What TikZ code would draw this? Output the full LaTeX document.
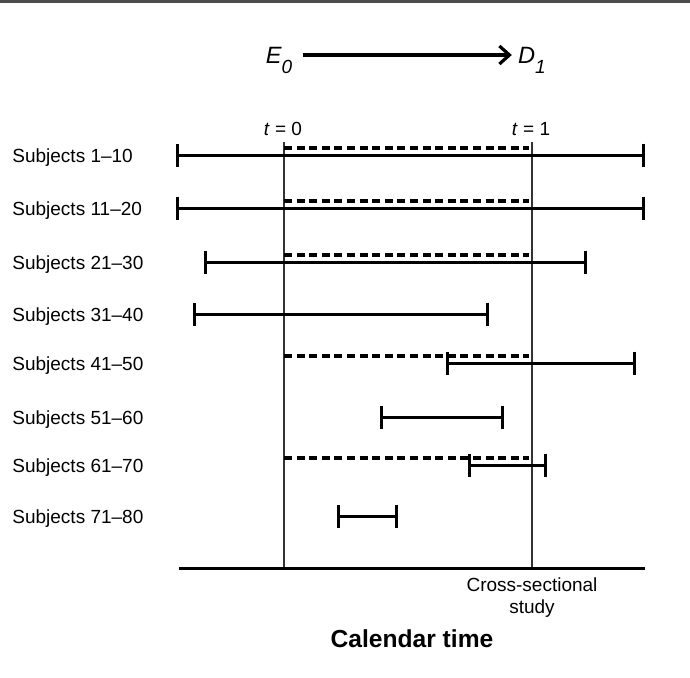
\documentclass[tikz,border=0pt]{standalone}
\usepackage{fontspec}
\setmainfont{Liberation Sans}
\usetikzlibrary{arrows.meta,positioning}

\begin{document}
\begin{tikzpicture}[
  x=0.5pt,y=-0.5pt,
  lab/.style={font=\fontsize{9.5}{11}\selectfont,inner sep=0pt},
  evt/.style={font=\fontsize{11.8}{12}\selectfont\itshape,inner sep=1pt,text depth=0pt},
  span/.style={{Bar[width=11.5pt]}-{Bar[width=11.5pt]},line width=1.5pt},
  gap/.style={line width=1.6pt,dash pattern=on 4pt off 2.3pt},
  tline/.style={line width=0.7pt,black!80}
]
\useasboundingbox (0,0) rectangle (690,677);
\draw[line width=1.5pt,black!70] (0,1) -- (690,1);

% exposure -> disease
\node[evt] (e0) at (279,55) {E\raisebox{-5pt}{\fontsize{9.5}{9}\selectfont 0}};
\node[evt] (d1) at (532,55) {D\raisebox{-5pt}{\fontsize{9.5}{9}\selectfont 1}};
\draw[-{Straight Barb[length=5pt,width=9pt]},line width=1.6pt,shorten <=4pt,shorten >=2pt] (e0) -- (d1);

% time points
\node[lab,anchor=base] (tzero) at (283,135) {\textit{t} = 0};
\node[lab,anchor=base] (tone) at (531,135) {\textit{t} = 1};
\coordinate (t0top) at (284,142);
\coordinate (t1top) at (532,142);
\coordinate (axl) at (179,568);
\coordinate (axr) at (645,568);
\draw[tline] (t0top) -- (t0top |- axl);
\draw[tline] (t1top) -- (t1top |- axl);
\draw[line width=1.5pt] (axl) -- (axr);

% subjects
\foreach \i/\txt/\y/\a/\b/\d in {1/1--10/155/176/645/1,2/11--20/208/176/645/1,
  3/21--30/262/204/587/1,4/31--40/314/193/489/0,5/41--50/363/446/636/1,
  6/51--60/417/380/504/0,7/61--70/465/468/547/1,8/71--80/516/337/398/0}{
  \node[lab,anchor=base west] (row\i) at (12,\y+7) {Subjects \txt};
  \coordinate (s\i) at (\a,\y);
  \coordinate (f\i) at (\b,\y);
  \ifnum\d=1
    \draw[gap] (284,\y-7) -- (529,\y-7);
  \fi
  \draw[span] (s\i) -- (f\i);
}

\node[lab,anchor=north,align=center] (cross) at (532,577) {Cross-sectional\\study};
\node[font=\fontsize{12.3}{14}\selectfont\bfseries,inner sep=0pt] (caltime) at (412,639) {Calendar time};
\end{tikzpicture}
\end{document}
